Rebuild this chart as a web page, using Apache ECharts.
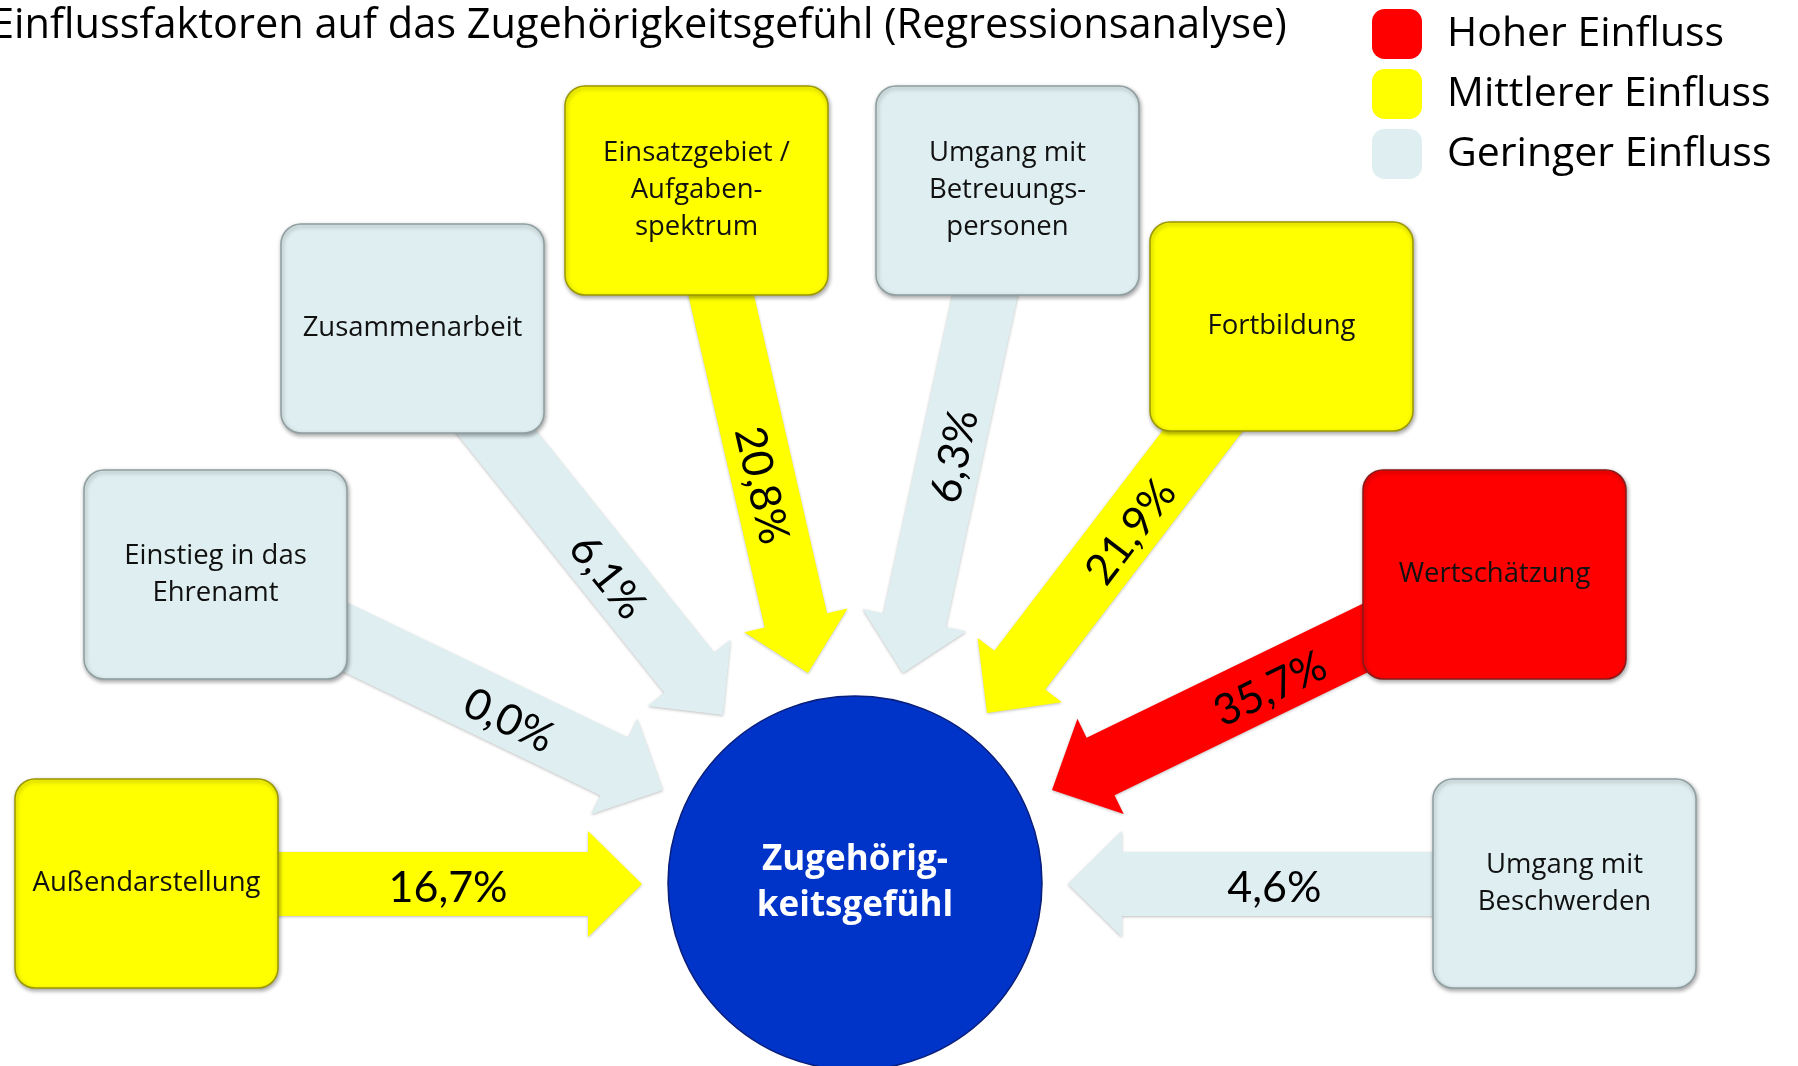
<!DOCTYPE html>
<html>
<head>
<meta charset="utf-8">
<title>Einflussfaktoren auf das Zugehörigkeitsgefühl</title>
<script src="https://cdn.jsdelivr.net/npm/echarts@6/dist/echarts.min.js"></script>
<style>
html, body { margin: 0; padding: 0; background: #fff; }
#main { width: 1798px; height: 1066px; }
</style>
</head>
<body>
<div id="main"></div>
<script>
// Daten
var titleText = 'Einflussfaktoren auf das Zugehörigkeitsgefühl (Regressionsanalyse)';
var targetName = 'Zugehörig-\nkeitsgefühl';
var levelNames = ['Hoher Einfluss', 'Mittlerer Einfluss', 'Geringer Einfluss'];
var factorNames = [
    'Außendarstellung',
    'Einstieg in das\nEhrenamt',
    'Zusammenarbeit',
    'Einsatzgebiet /\nAufgaben-\nspektrum',
    'Umgang mit\nBetreuungs-\npersonen',
    'Fortbildung',
    'Wertschätzung',
    'Umgang mit\nBeschwerden'
];
var influence = [16.7, 0.0, 6.1, 20.8, 6.3, 21.9, 35.7, 4.6];
var factorLevel = [1, 2, 2, 1, 2, 1, 0, 2];   // index in levelNames

// Layout (Achsen-Einheiten = Pixel)
var boxPos = [[15, 779], [84, 470], [281, 224], [565, 86], [876, 86], [1150, 222], [1363, 470], [1433, 779]];
var boxSize = [263, 209];
var arrowFrom = [[146, 884], [216, 575], [413, 328], [697, 190], [1008, 190], [1282, 327], [1495, 575], [1565, 884]];
var arrowTo = [[642, 884], [663, 790], [723, 715], [808, 673], [903, 673], [987, 713], [1052, 790], [1068, 884]];
var arrowEdge = [[277, 884], [348, 640], [497, 433], [723, 297], [986, 297], [1203, 432], [1363, 640], [1433, 884]];
var labelAt = [0.55, 0.61, 0.59, 0.58, 0.49, 0.41, 0.36, 0.51];
var hubPos = [855, 883];
var hubSize = 374;

var levelColors = ['#FF0000', '#FFFF00', '#DFEEF0'];
var levelBorders = ['#8a1a1a', '#9c9800', '#8f9ea1'];
var shaftHalf = 32, headHalf = 53, headLen = 54;

var numFont = 'Lato, "Open Sans", sans-serif';
var textFont = '"Open Sans", Lato, sans-serif';

function fmt(v) {
    return v.toFixed(1).replace('.', ',') + '%';
}

function renderFactor(params, api) {
    var i = api.value(0);
    var lvl = factorLevel[i];
    var s = api.coord(arrowFrom[i]);
    var t = api.coord(arrowTo[i]);
    var dx = t[0] - s[0], dy = t[1] - s[1];
    var len = Math.sqrt(dx * dx + dy * dy);
    var ux = dx / len, uy = dy / len;
    var nx = -uy, ny = ux;
    var b = [t[0] - ux * headLen, t[1] - uy * headLen];
    var pts = [
        [s[0] + nx * shaftHalf, s[1] + ny * shaftHalf],
        [b[0] + nx * shaftHalf, b[1] + ny * shaftHalf],
        [b[0] + nx * headHalf, b[1] + ny * headHalf],
        [t[0], t[1]],
        [b[0] - nx * headHalf, b[1] - ny * headHalf],
        [b[0] - nx * shaftHalf, b[1] - ny * shaftHalf],
        [s[0] - nx * shaftHalf, s[1] - ny * shaftHalf]
    ];
    // Beschriftung auf dem sichtbaren Pfeilschaft
    var e = api.coord(arrowEdge[i]);
    var f = labelAt[i];
    var lx = e[0] + (b[0] - e[0]) * f;
    var ly = e[1] + (b[1] - e[1]) * f;
    var ang = Math.atan2(dy, dx);
    if (ang > Math.PI / 2) ang -= Math.PI;
    if (ang < -Math.PI / 2) ang += Math.PI;

    var p0 = api.coord(boxPos[i]);
    var p1 = api.coord([boxPos[i][0] + boxSize[0], boxPos[i][1] + boxSize[1]]);

    return {
        type: 'group',
        children: [
            {
                type: 'polygon',
                shape: { points: pts },
                style: {
                    fill: levelColors[lvl],
                    shadowBlur: 3,
                    shadowOffsetY: 1,
                    shadowColor: 'rgba(0,0,0,0.25)'
                }
            },
            {
                type: 'text',
                x: lx, y: ly,
                rotation: -ang,
                style: {
                    text: fmt(influence[i]),
                    x: 0,
                    y: 4,
                    fontSize: 43,
                    fontFamily: numFont,
                    fill: '#000',
                    align: 'center',
                    verticalAlign: 'middle'
                }
            },
            {
                type: 'rect',
                shape: { x: p0[0], y: p0[1], width: p1[0] - p0[0], height: p1[1] - p0[1], r: 20 },
                style: {
                    fill: levelColors[lvl],
                    stroke: levelBorders[lvl],
                    lineWidth: 1.5,
                    shadowBlur: 4,
                    shadowOffsetX: 1,
                    shadowOffsetY: 2,
                    shadowColor: 'rgba(0,0,0,0.35)'
                }
            },
            {
                type: 'text',
                x: (p0[0] + p1[0]) / 2,
                y: (p0[1] + p1[1]) / 2,
                style: {
                    text: factorNames[i],
                    fontSize: 27.5,
                    lineHeight: 37,
                    fontFamily: textFont,
                    fill: '#111',
                    align: 'center',
                    verticalAlign: 'middle'
                }
            }
        ]
    };
}

var series = levelNames.map(function (name, lvl) {
    var items = [];
    factorNames.forEach(function (n, i) {
        if (factorLevel[i] === lvl) items.push([i]);
    });
    return {
        name: name,
        type: 'custom',
        coordinateSystem: 'cartesian2d',
        renderItem: renderFactor,
        itemStyle: { color: levelColors[lvl] },
        encode: { x: -1, y: -1 },
        data: items,
        silent: true
    };
});

series.push({
    name: 'Ziel',
    type: 'scatter',
    data: [hubPos],
    symbolSize: hubSize,
    itemStyle: { color: '#0033C8', borderColor: '#0a1f7a', borderWidth: 1.5, opacity: 1 },
    label: {
        show: true,
        position: 'inside',
        formatter: targetName,
        color: '#fff',
        fontSize: 35,
        fontWeight: 'bold',
        fontFamily: textFont,
        lineHeight: 46
    },
    silent: true,
    z: 3
});

var chart = echarts.init(document.getElementById('main'));
chart.setOption({
    backgroundColor: '#fff',
    animation: false,
    title: {
        text: titleText,
        left: -9,
        top: 3,
        padding: 0,
        textStyle: { fontFamily: textFont, fontSize: 41.5, fontWeight: 'normal', color: '#000', lineHeight: 46 }
    },
    legend: {
        data: levelNames,
        orient: 'vertical',
        left: 1372,
        top: 9,
        padding: 0,
        itemWidth: 50,
        itemHeight: 50,
        itemGap: 10,
        icon: 'roundRect',
        textStyle: { fontFamily: textFont, fontSize: 41, color: '#000', padding: [20, 0, 0, 20] }
    },
    grid: { left: 0, right: 0, top: 0, bottom: 0 },
    xAxis: { type: 'value', min: 0, max: 1798, show: false },
    yAxis: { type: 'value', min: 0, max: 1066, inverse: true, show: false },
    series: series
});
</script>
</body>
</html>
